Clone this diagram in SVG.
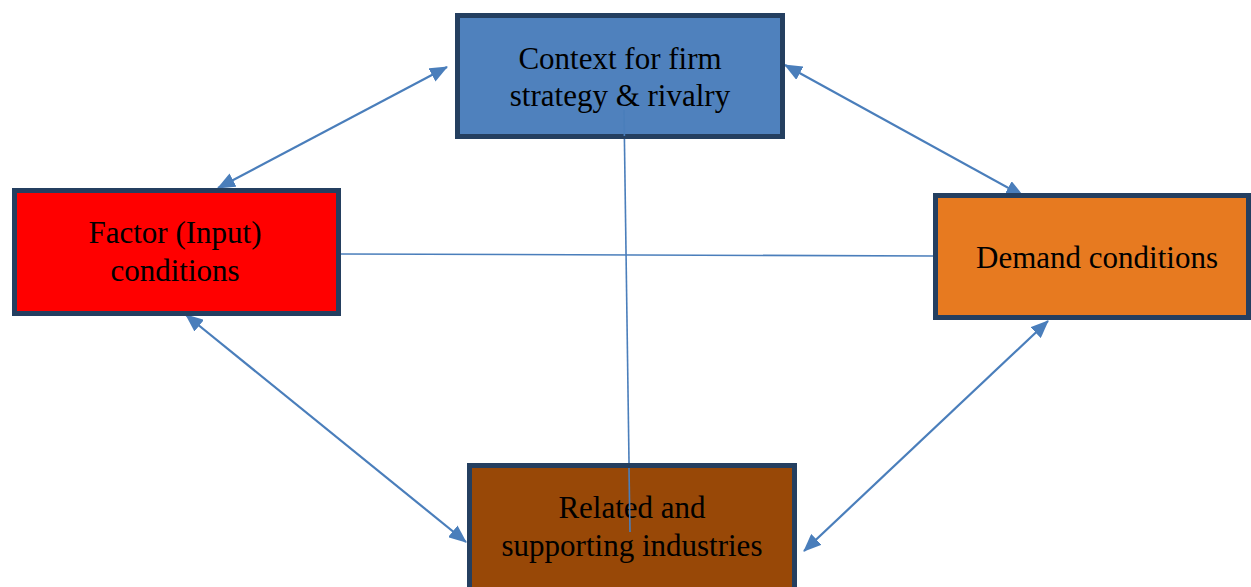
<svg xmlns="http://www.w3.org/2000/svg" width="1251" height="587" viewBox="0 0 1251 587">
<style>
.box{stroke:#243F60;stroke-width:5}
.lbl{font-family:"Liberation Serif","Times New Roman",serif;font-size:31px;fill:#000;text-anchor:middle}
.arr{stroke:#4A7EBB;stroke-width:2.2;fill:none;marker-start:url(#ah);marker-end:url(#ah)}
.ln{stroke:#4A7EBB;stroke-width:1.6;fill:none}
</style>
<defs>
<marker id="ah" markerUnits="userSpaceOnUse" markerWidth="18" markerHeight="15" refX="17" refY="7.5" orient="auto-start-reverse" viewBox="0 0 18 15">
<path d="M0,0 L18,7.5 L0,15 z" fill="#4A7EBB"/>
</marker>
</defs>
<rect width="1251" height="587" fill="#fff"/>
<g id="connectors">
<line class="arr" x1="218" y1="188" x2="447" y2="67"/>
<line class="arr" x1="785" y1="65" x2="1023" y2="196"/>
<line class="arr" x1="186" y1="315" x2="466" y2="542"/>
<line class="arr" x1="1048" y1="321" x2="804" y2="551"/>
<line class="ln" x1="341" y1="254" x2="934" y2="256"/>
<line class="ln" x1="624" y1="110" x2="630" y2="532"/>
</g>
<g id="node-context">
<rect class="box" x="457.5" y="15.5" width="325" height="121" fill="#4F81BD"/>
<text class="lbl" x="620" y="69">Context for firm</text>
<text class="lbl" x="620" y="106">strategy &amp; rivalry</text>
</g>
<line class="ln" x1="624" y1="110" x2="624.4" y2="136"/>
<g id="node-factor">
<rect class="box" x="14.5" y="190.5" width="324" height="123" fill="#FF0000"/>
<text class="lbl" x="175" y="243">Factor (Input)</text>
<text class="lbl" x="175" y="281">conditions</text>
</g>
<g id="node-demand">
<rect class="box" x="935.5" y="195.5" width="313" height="122" fill="#E77A20"/>
<text class="lbl" x="1097" y="268">Demand conditions</text>
</g>
<g id="node-related">
<rect class="box" x="469.5" y="465.5" width="325" height="135" fill="#984807"/>
<text class="lbl" x="632" y="518">Related and</text>
<text class="lbl" x="632" y="556">supporting industries</text>
</g>
<line class="ln" x1="629" y1="468" x2="630" y2="532"/>
</svg>
